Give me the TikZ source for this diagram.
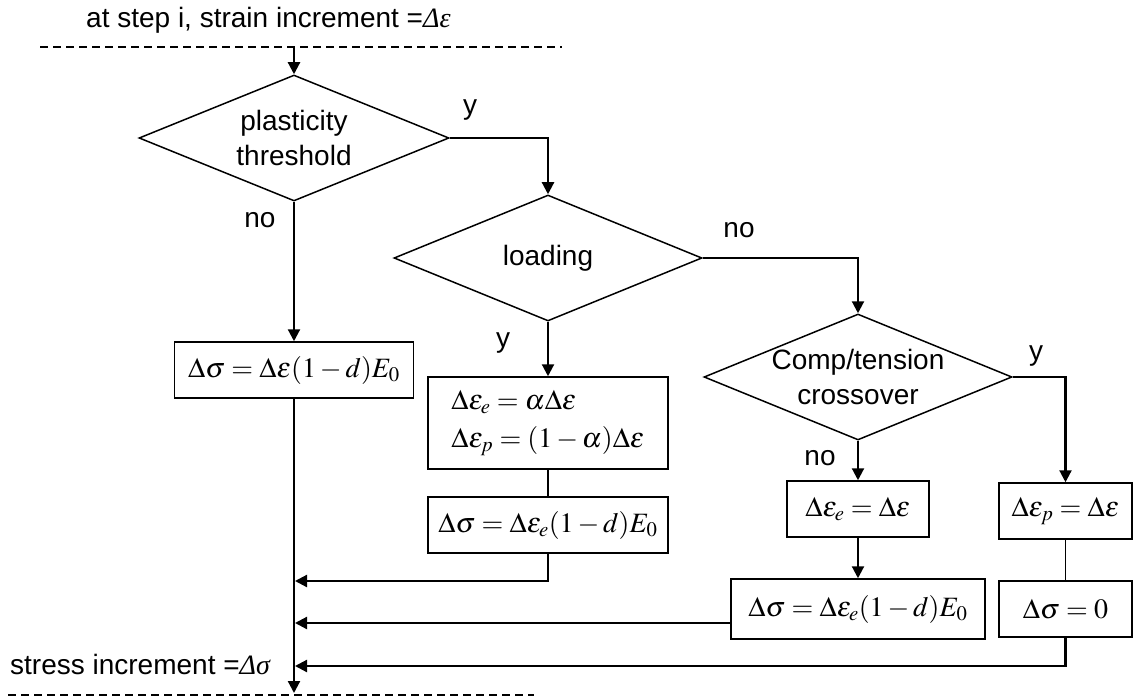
\documentclass[tikz,border=0pt]{standalone}
\usepackage{mathptmx}
\usepackage[no-math]{fontspec}
\setsansfont{Liberation Sans}
\newfontfamily\grkit{Liberation Serif}
\usetikzlibrary{shapes.geometric,arrows.meta}

\begin{document}
\begin{tikzpicture}[x=1pt,y=-1pt,
  every node/.style={font=\sffamily\fontsize{28}{35}\selectfont},
  decision/.style={draw,diamond,line width=1.5pt,inner sep=0pt,minimum width=310pt,minimum height=126pt},
  calcbox/.style={draw,rectangle,line width=1.5pt,inner sep=0pt,minimum height=56pt},
  arr/.style={line width=2.2pt,-{Triangle[length=12pt,width=12pt]}},
  link/.style={line width=1.5pt}]
\useasboundingbox (0,0) rectangle (1133,698);
% input / output rules
\node[anchor=base west,inner sep=0pt] (title) at (86,28) {at step i, strain increment =\grkit\itshape Δε};
\node[anchor=base west,inner sep=0pt] (result) at (10,674) {stress increment =\grkit\itshape Δσ};
\draw[link,dash pattern=on 8pt off 5pt] (40,47) -- (562,47);
\draw[link,dash pattern=on 8pt off 5pt] (8,695) -- (534,695);
\coordinate (in) at (294,47);
\coordinate (out) at (294,693);
% decisions
\node[decision,label={[align=center]center:plasticity\\threshold}] (plast) at (294,138) {};
\node[decision,minimum width=308pt,label={center:loading}] (load) at (548,258) {};
\node[decision,minimum width=308pt,label={[align=center]center:Comp/tension\\crossover}] (cross) at (858,377) {};
% updates
\node[calcbox,minimum width=239pt] (elast) at (294,370) {$\Delta\sigma=\Delta\varepsilon(1-d)E_0$};
\node[calcbox,minimum width=240pt,minimum height=92pt,align=left,font=\sffamily\fontsize{28}{38}\selectfont] (split) at (548,423)
  {$\Delta\varepsilon_e=\alpha\Delta\varepsilon$\\$\Delta\varepsilon_p=(1-\alpha)\Delta\varepsilon$};
\node[calcbox,minimum width=240pt] (splitsig) at (548,525) {$\Delta\sigma=\Delta\varepsilon_e(1-d)E_0$};
\node[calcbox,minimum width=142pt] (unload) at (858,509) {$\Delta\varepsilon_e=\Delta\varepsilon$};
\node[calcbox,minimum width=254pt,minimum height=60pt] (unloadsig) at (858,609) {$\Delta\sigma=\Delta\varepsilon_e(1-d)E_0$};
\node[calcbox,minimum width=133pt] (flip) at (1065.5,511) {$\Delta\varepsilon_p=\Delta\varepsilon$};
\node[calcbox,minimum width=133pt] (flipsig) at (1065.5,609) {$\Delta\sigma=0$};
% branch labels
\node (yes1) at (470,110) {y};
\node (no1) at (260,220) {no};
\node (no2) at (739,230) {no};
\node (yes2) at (503,343) {y};
\node (yes3) at (1036,356) {y};
\node (no3) at (820,458) {no};
% flow
\draw[arr] (in) -- (plast.north);
\draw[arr] (plast.south) -- (elast.north);
\draw[arr] (plast.east) -| (load.north);
\draw[arr] (load.south) -- (split.north);
\draw[link] (split.south) -- (splitsig.north);
\draw[arr] (load.east) -| (cross.north);
\draw[arr] (cross.south) -- (unload.north);
\draw[arr] (unload.south) -- (unloadsig.north);
\draw[arr] (cross.east) -| (flip.north);
\draw[link] (flip.south) -- (flipsig.north);
\draw[arr] (elast.south) -- (out);
\coordinate (j1) at (295,581);
\coordinate (j2) at (295,623);
\coordinate (j3) at (295,666);
\draw[arr] (splitsig.south) |- (j1);
\draw[arr] (unloadsig.west |- j2) -- (j2);
\draw[arr] (flipsig.south) |- (j3);
\end{tikzpicture}
\end{document}
